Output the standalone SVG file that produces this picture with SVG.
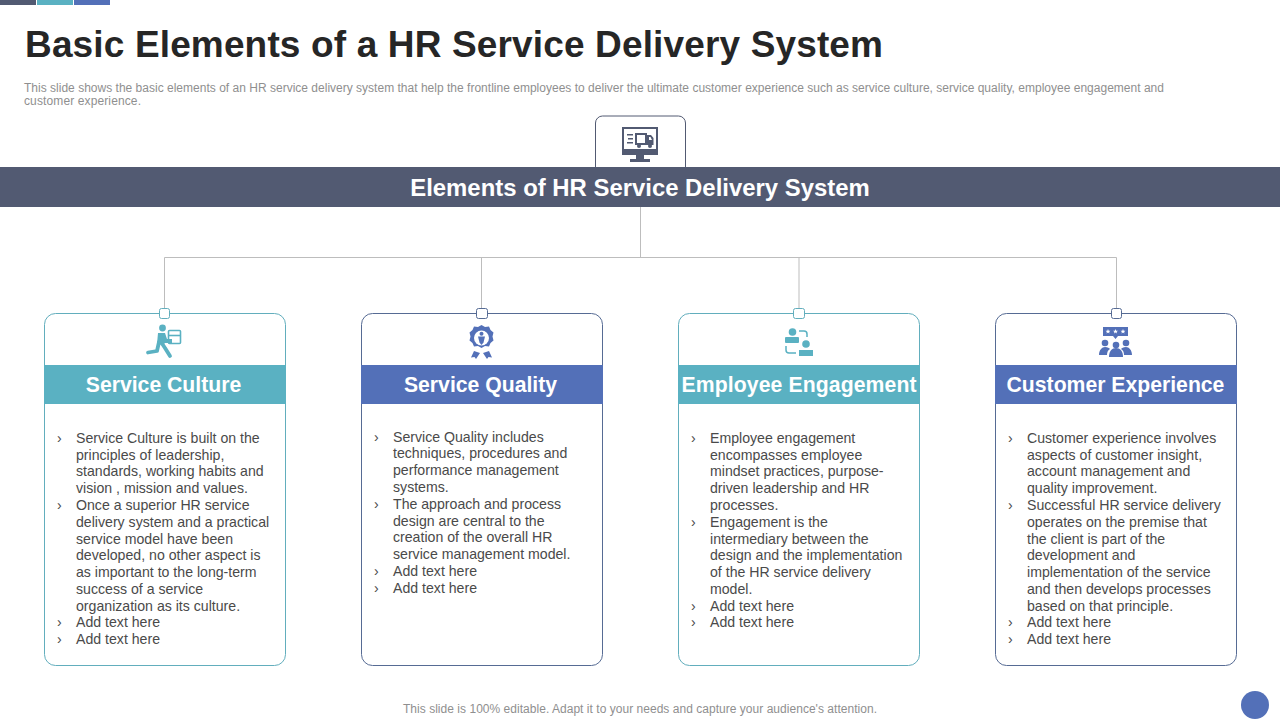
<svg xmlns="http://www.w3.org/2000/svg" width="1280" height="720" viewBox="0 0 1280 720">
<style>
text{font-family:"Liberation Sans",Arial,sans-serif}
.title{font-size:37px;font-weight:700;fill:#262626}
.sub{font-size:12px;fill:#8f8f8f}
.bar{font-size:23.900px;font-weight:700;fill:#fff;text-anchor:middle}
.head{font-size:21.200px;font-weight:700;fill:#fff;text-anchor:middle}
.body{font-size:14.130px;fill:#4a4a4a}
.conn{fill:none;stroke:#bdbdbd;stroke-width:1}
.teal{fill:#5ab1c2}.blue{fill:#5370b8}
.card{fill:#fff;stroke-width:1}
.tb{stroke:#62aebd}.bb{stroke:#566b94}
.pin{fill:#fff;stroke-width:1}
</style>
<defs>
<path id="star" d="M0-2.400.7-.8 2.400-.7 1.100.4 1.500 2 0 1.100-1.500 2-1.100.4-2.400-.7-.7-.8z" fill="#fff"/>
</defs>
<rect width="1280" height="720" fill="#fff"/>
<g id="corner-tabs">
<rect x="0" y="0" width="36" height="5" fill="#525a72"/>
<rect x="37" y="0" width="36" height="5" fill="#5ab1c2"/>
<rect x="74" y="0" width="36" height="5" fill="#5370b8"/>
</g>
<g id="header">
<text class="title" x="25" y="57" textLength="858" lengthAdjust="spacing">Basic Elements of a HR Service Delivery System</text>
<text class="sub" x="24" y="92" textLength="1140" lengthAdjust="spacing">This slide shows the basic elements of an HR service delivery system that help the frontline employees to deliver the ultimate customer experience such as service culture, service quality, employee engagement and</text>
<text class="sub" x="24" y="105" textLength="117" lengthAdjust="spacing">customer experience.</text>
</g>
<g id="connectors">
<path class="conn" d="M640.500 207V257.500M164.500 313V257.500H1116.500V313M481.500 257.500V313M799 257.500V313"/>
</g>
<g id="root">
<path d="M595.500 167V123a7 7 0 0 1 7-7h76a7 7 0 0 1 7 7v44" fill="#fff" stroke="#525a72"/>
<g fill="#525a72">
<path fill-rule="evenodd" d="M622 127h36v28h-36zM624 129v20h32v-20z"/>
<rect x="636" y="155" width="8" height="4"/>
<rect x="630" y="159" width="20" height="3"/>
<rect x="627" y="134" width="6" height="1.500"/><rect x="628" y="138" width="5" height="1.500"/><rect x="627" y="142" width="6" height="1.500"/>
<path fill-rule="evenodd" d="M635 133h12v12h-12zM637 135v8h8v-8z"/>
<path fill-rule="evenodd" d="M647 135h4l2.500 3v7h-6.500zM649 137v3h3l-1.500-3z"/>
<circle cx="639" cy="146" r="2"/><circle cx="650" cy="146" r="2"/>
</g>
<rect x="0" y="167" width="1280" height="40" fill="#525a72"/>
<text class="bar" x="640" y="196">Elements of HR Service Delivery System</text>
</g>
<g id="card-service-culture">
<rect class="card tb" x="44.500" y="313.500" width="241" height="352" rx="11"/>
<rect class="pin tb" x="159.500" y="308.500" width="10" height="10" rx="2"/>
<g fill="#5ab1c2">
<circle cx="162.500" cy="328" r="3.400"/>
<path d="M158 333h7l2 6h5v4h-7l-1 1-7 0z"/>
</g>
<path d="M161 342l4 6 5 8M159 342l-2 9-9 1.500" fill="none" stroke="#5ab1c2" stroke-width="3.800" stroke-linecap="round" stroke-linejoin="round"/>
<rect x="168.500" y="330.500" width="12" height="13" rx="1" fill="none" stroke="#5ab1c2" stroke-width="1.600"/>
<path d="M168.500 335.500h12" stroke="#5ab1c2" stroke-width="1.600"/>
<rect class="teal" x="44" y="365" width="242" height="39"/>
<text class="head" x="163.500" y="392">Service Culture</text>
<g class="body">
<text x="57" y="443">›</text><text x="76" y="443">Service Culture is built on the</text>
<text x="76" y="460">principles of leadership,</text>
<text x="76" y="476">standards, working habits and</text>
<text x="76" y="493">vision , mission and values.</text>
<text x="57" y="510">›</text><text x="76" y="510">Once a superior HR service</text>
<text x="76" y="527">delivery system and a practical</text>
<text x="76" y="544">service model have been</text>
<text x="76" y="560">developed, no other aspect is</text>
<text x="76" y="577">as important to the long-term</text>
<text x="76" y="594">success of a service</text>
<text x="76" y="611">organization as its culture.</text>
<text x="57" y="627">›</text><text x="76" y="627">Add text here</text>
<text x="57" y="644">›</text><text x="76" y="644">Add text here</text>
</g>
</g>
<g id="card-service-quality">
<rect class="card bb" x="361.500" y="313.500" width="241" height="352" rx="11"/>
<rect class="pin bb" x="476.500" y="308.500" width="11" height="10" rx="2"/>
<g fill="#5370b8">
<path d="M481.500 325l3.500 2 4-.500 1.500 3.500 3 2.500-1 4 1 4-3 2.500-1.500 3.500-4-.500-3.500 2-3.500-2-4 .500-1.500-3.500-3-2.500 1-4-1-4 3-2.500 1.500-3.500 4 .500z"/>
<path d="M474 351l6 2-4 6-1.500-2-3.500 .500zM489 351l-6 2 4 6 1.500-2 3.500 .500z"/>
</g>
<circle cx="481.500" cy="338" r="7.500" fill="#fff"/>
<circle cx="481.500" cy="333.800" r="2" fill="#5370b8"/>
<path d="M478 336.500h7l-1.500 6-2 2.500-2-2.500z" fill="#5370b8"/>
<rect class="blue" x="361" y="365" width="242" height="39"/>
<text class="head" x="480.500" y="392">Service Quality</text>
<g class="body">
<text x="374" y="442">›</text><text x="393" y="442">Service Quality includes</text>
<text x="393" y="458">techniques, procedures and</text>
<text x="393" y="475">performance management</text>
<text x="393" y="492">systems.</text>
<text x="374" y="509">›</text><text x="393" y="509">The approach and process</text>
<text x="393" y="526">design are central to the</text>
<text x="393" y="542">creation of the overall HR</text>
<text x="393" y="559">service management model.</text>
<text x="374" y="576">›</text><text x="393" y="576">Add text here</text>
<text x="374" y="593">›</text><text x="393" y="593">Add text here</text>
</g>
</g>
<g id="card-employee-engagement">
<rect class="card tb" x="678.500" y="313.500" width="241" height="352" rx="11"/>
<rect class="pin tb" x="793.500" y="308.500" width="11" height="10" rx="2"/>
<g fill="#5ab1c2">
<circle cx="792.500" cy="332" r="3.800"/>
<rect x="785" y="337" width="14" height="6" rx="1"/>
<circle cx="806" cy="344" r="3.800"/>
<rect x="799" y="350" width="14" height="6"/>
</g>
<g fill="none" stroke="#5ab1c2" stroke-width="1.500">
<path d="M799 331h5a3 3 0 0 1 3 3v3"/>
<path d="M786 346v4a3 3 0 0 0 3 3h7"/>
</g>
<rect class="teal" x="678" y="365" width="242" height="39"/>
<text class="head" x="799" y="392" textLength="235" lengthAdjust="spacing">Employee Engagement</text>
<g class="body">
<text x="691" y="443">›</text><text x="710" y="443">Employee engagement</text>
<text x="710" y="460">encompasses employee</text>
<text x="710" y="476">mindset practices, purpose-</text>
<text x="710" y="493">driven leadership and HR</text>
<text x="710" y="510">processes.</text>
<text x="691" y="527">›</text><text x="710" y="527">Engagement is the</text>
<text x="710" y="544">intermediary between the</text>
<text x="710" y="560">design and the implementation</text>
<text x="710" y="577">of the HR service delivery</text>
<text x="710" y="594">model.</text>
<text x="691" y="611">›</text><text x="710" y="611">Add text here</text>
<text x="691" y="627">›</text><text x="710" y="627">Add text here</text>
</g>
</g>
<g id="card-customer-experience">
<rect class="card bb" x="995.500" y="313.500" width="241" height="352" rx="11"/>
<rect class="pin bb" x="1111.500" y="308.500" width="10" height="10" rx="2"/>
<g fill="#5370b8">
<path d="M1103 327h25v9h-10l-2.500 3-2.500-3h-10z"/>
<circle cx="1105" cy="343" r="3.300"/><circle cx="1126" cy="343" r="3.300"/><circle cx="1116" cy="345" r="3.300"/>
<path d="M1099 355c0-5 3-8 6-8s4 1 5 2c-2 1-3 3-3 6z"/>
<path d="M1132 355c0-5-3-8-6-8s-4 1-5 2c2 1 3 3 3 6z"/>
<path d="M1109 357c0-6 3-9 7-9s7 3 7 9z"/>
</g>
<use href="#star" x="1108" y="331.500"/><use href="#star" x="1115.500" y="331.500"/><use href="#star" x="1123" y="331.500"/>
<rect class="blue" x="995" y="365" width="242" height="39"/>
<text class="head" x="1115.500" y="392">Customer Experience</text>
<g class="body">
<text x="1008" y="443">›</text><text x="1027" y="443">Customer experience involves</text>
<text x="1027" y="460">aspects of customer insight,</text>
<text x="1027" y="476">account management and</text>
<text x="1027" y="493">quality improvement.</text>
<text x="1008" y="510">›</text><text x="1027" y="510">Successful HR service delivery</text>
<text x="1027" y="527">operates on the premise that</text>
<text x="1027" y="544">the client is part of the</text>
<text x="1027" y="560">development and</text>
<text x="1027" y="577">implementation of the service</text>
<text x="1027" y="594">and then develops processes</text>
<text x="1027" y="611">based on that principle.</text>
<text x="1008" y="627">›</text><text x="1027" y="627">Add text here</text>
<text x="1008" y="644">›</text><text x="1027" y="644">Add text here</text>
</g>
</g>
<g id="footer">
<text x="640" y="713" text-anchor="middle" font-size="12" fill="#8f8f8f" textLength="474" lengthAdjust="spacing">This slide is 100% editable. Adapt it to your needs and capture your audience's attention.</text>
<circle cx="1255" cy="705" r="14" fill="#5370b8"/>
</g>
</svg>
